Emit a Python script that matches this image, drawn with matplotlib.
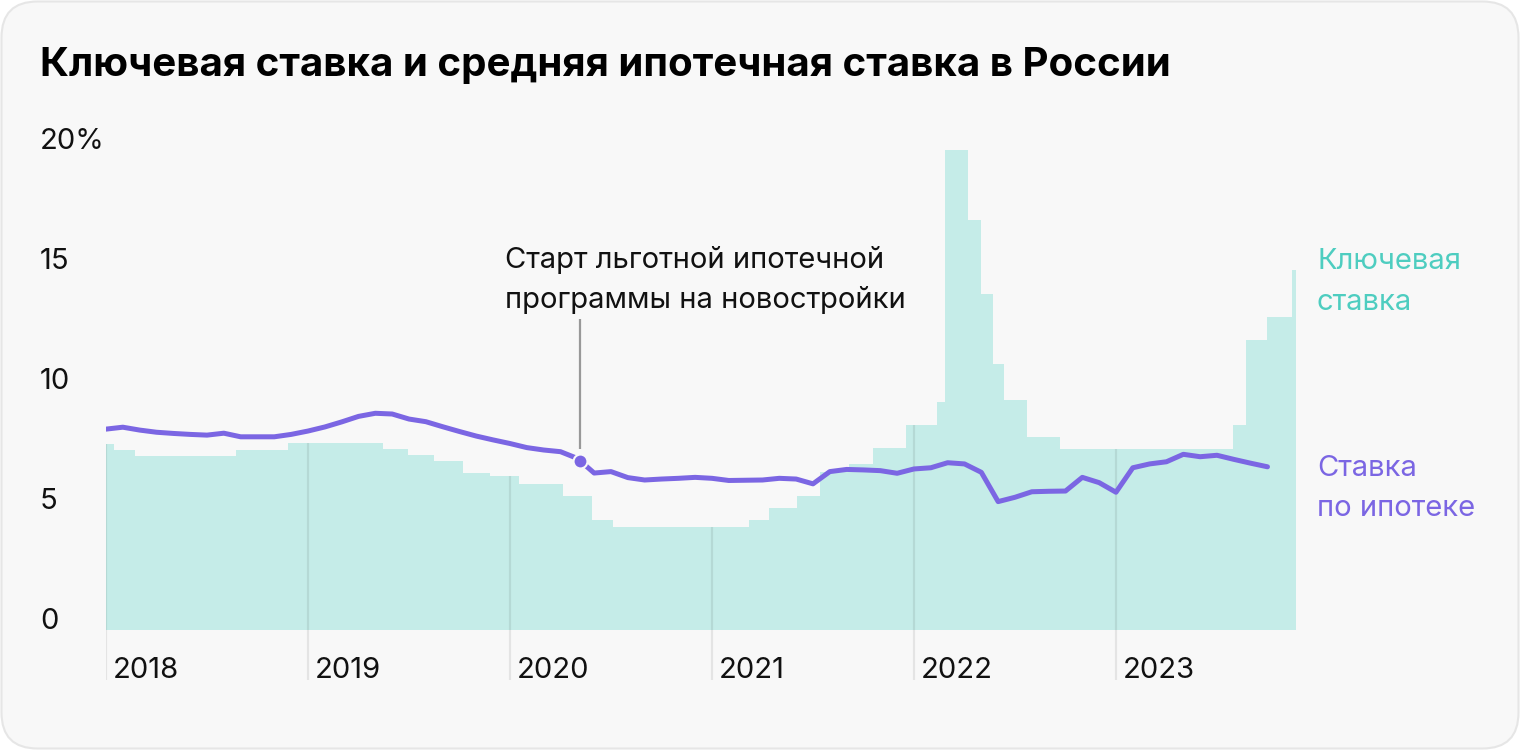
import numpy as np
import matplotlib
matplotlib.use("Agg")
import matplotlib.pyplot as plt
from matplotlib.patches import FancyBboxPatch
from matplotlib.transforms import IdentityTransform, blended_transform_factory

plt.rcParams['font.family'] = ['Inter', 'DejaVu Sans']

# months since Jan 2018 where the key rate changes, and the rate from there on
key_edges = [0, 0.48, 1.72, 7.72, 10.81, 16.46, 17.94, 19.49, 21.21, 22.81,
             24.54, 27.15, 28.87, 30.12, 38.20, 39.39, 41.05, 42.42, 44.14, 45.57,
             47.53, 49.37, 49.84, 51.21, 51.98, 52.69, 53.35, 54.71, 56.68, 66.95,
             67.72, 68.97, 70.46]
key_values = [7.75, 7.5, 7.25, 7.5, 7.8, 7.55, 7.3, 7.05, 6.55, 6.4,
              6.1, 5.6, 4.6, 4.3, 4.6, 5.1, 5.6, 6.6, 6.9, 7.6,
              8.55, 9.5, 20, 17.1, 14, 11.1, 9.6, 8.05, 7.55, 8.55,
              12.1, 13.05, 15]
key_end = 70.7

# average mortgage rate, monthly from Jan 2018
mortgage = [8.37, 8.45, 8.33, 8.24, 8.19, 8.15, 8.12, 8.2, 8.05, 8.05,
            8.05, 8.15, 8.29, 8.46, 8.67, 8.9, 9.03, 9.0, 8.79, 8.68,
            8.47, 8.27, 8.08, 7.92, 7.77, 7.6, 7.5, 7.43, 7.15, 6.54,
            6.6, 6.35, 6.25, 6.29, 6.32, 6.36, 6.32, 6.23, 6.24, 6.25,
            6.32, 6.29, 6.09, 6.6, 6.69, 6.67, 6.64, 6.53, 6.71, 6.76,
            6.97, 6.92, 6.57, 5.35, 5.53, 5.76, 5.78, 5.79, 6.36, 6.14,
            5.74, 6.76, 6.92, 7.01, 7.32, 7.22, 7.28, 7.11, 6.95, 6.8]

years = ['2018', '2019', '2020', '2021', '2022', '2023']
y_ticks = [0, 5, 10, 15, 20]
y_labels = ['0', '5', '10', '15', '20%']
program_start = 28.15  # months since Jan 2018

TEAL = '#c5ece8'
TEAL_TXT = '#4ecdc0'
PURPLE = '#7b66e3'
FS = 21

W, H = 1520, 750
fig = plt.figure(figsize=(W / 100, H / 100), dpi=100)
fig.patch.set_facecolor('white')
card = FancyBboxPatch((1.5, 1.5), W - 3, H - 3,
                      boxstyle='round,pad=0,rounding_size=36',
                      transform=IdentityTransform(),
                      facecolor='#f8f8f8', edgecolor='#e6e6e6', linewidth=1.5,
                      zorder=-10)
fig.add_artist(card)

# axes placed so that 1 month = 16.83 px, 1 pt = 24 px
px_month = 16.833
x0, x1 = 0, 72
y0, y1 = -2.1, 20.5
left = 106
right = left + px_month * (x1 - x0)
bottom = 630 + 24 * (-y0)
top = 630 - 24 * y1
ax = fig.add_axes([left / W, 1 - bottom / H, (right - left) / W, (bottom - top) / H])
ax.set_xlim(x0, x1)
ax.set_ylim(y0, y1)
ax.axis('off')

edges = np.array(key_edges + [key_end])
vals = np.array(key_values + [key_values[-1]])
ax.fill_between(edges, 0, vals, step='post', color=TEAL, linewidth=0, zorder=1)

# year lines, up to the key rate at that date
for i, yr in enumerate(years):
    xm = 12 * i
    top_val = vals[np.searchsorted(edges, xm, side='right') - 1]
    ax.vlines(xm, y0, top_val, color='black', alpha=0.08, linewidth=1.6, zorder=2)
    ax.text(xm + 0.42, -2.0, yr, fontsize=FS, color='#111111', va='baseline', ha='left')

months = np.arange(len(mortgage))
ax.plot(months, mortgage, color=PURPLE, linewidth=3.6, zorder=4,
        solid_joinstyle='round', solid_capstyle='round')

# annotation
dot_y = np.interp(program_start, months, mortgage)
ax.plot([program_start], [dot_y], 'o', color=PURPLE, markersize=10,
        markeredgecolor='#f8f8f8', markeredgewidth=1.5, zorder=5)
ax.vlines(program_start, dot_y + 0.5, (630 - 319) / 24, color='#999999',
          linewidth=1.6, zorder=3)
fig.text(505 / W, 1 - 260 / H, 'Старт льготной ипотечной', fontsize=FS,
         color='#111111', va='center', ha='left')
fig.text(505 / W, 1 - 300 / H, 'программы на новостройки', fontsize=FS,
         color='#111111', va='center', ha='left')

# y labels
ytrans = blended_transform_factory(fig.transFigure, ax.transData)
for v, lab in zip(y_ticks, y_labels):
    ax.text(40 / W, v + 0.05, lab, transform=ytrans,
            fontsize=FS, color='#111111', va='baseline', ha='left')

# series labels
fig.text(1317 / W, 1 - 262 / H, 'Ключевая', fontsize=FS, color=TEAL_TXT, va='center')
fig.text(1317 / W, 1 - 302 / H, 'ставка', fontsize=FS, color=TEAL_TXT, va='center')
fig.text(1317 / W, 1 - 469 / H, 'Ставка', fontsize=FS, color=PURPLE, va='center')
fig.text(1317 / W, 1 - 509 / H, 'по ипотеке', fontsize=FS, color=PURPLE, va='center')

fig.text(40 / W, 1 - 65 / H, 'Ключевая ставка и средняя ипотечная ставка в России',
         fontsize=29, fontweight='bold', color='#000000', va='center', ha='left')

fig.savefig('out.png', dpi=100, facecolor='white')
